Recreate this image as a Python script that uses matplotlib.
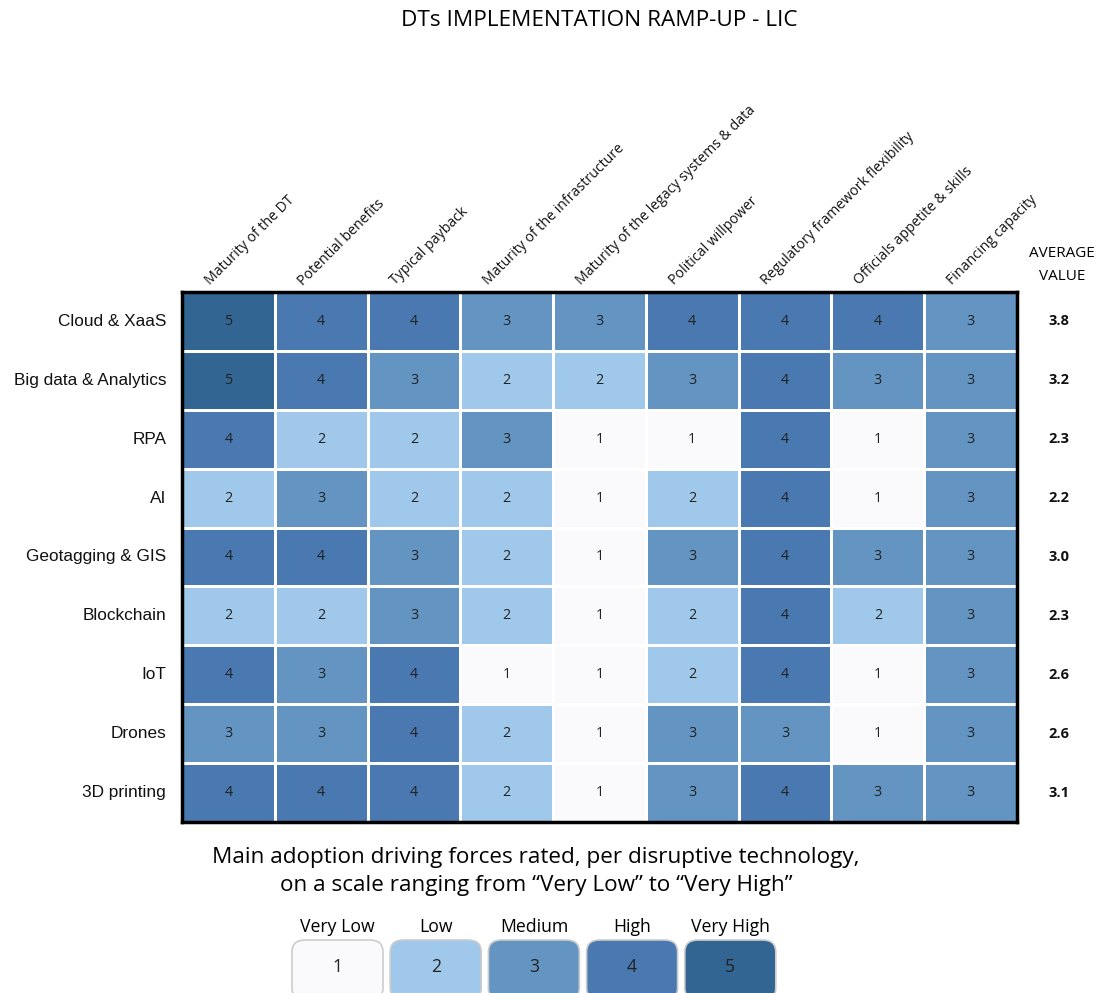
import matplotlib
matplotlib.use("Agg")
import matplotlib.pyplot as plt
import numpy as np
from matplotlib.colors import ListedColormap, BoundaryNorm
from matplotlib.patches import FancyBboxPatch

title = "DTs IMPLEMENTATION RAMP-UP - LIC"
technologies = ["Cloud & XaaS", "Big data & Analytics", "RPA", "AI", "Geotagging & GIS",
                "Blockchain", "IoT", "Drones", "3D printing"]
forces = ["Maturity of the DT", "Potential benefits", "Typical payback",
          "Maturity of the infrastructure", "Maturity of the legacy systems & data",
          "Political willpower", "Regulatory framework flexibility",
          "Officials appetite & skills", "Financing capacity"]
scores = [
    [5, 4, 4, 3, 3, 4, 4, 4, 3],
    [5, 4, 3, 2, 2, 3, 4, 3, 3],
    [4, 2, 2, 3, 1, 1, 4, 1, 3],
    [2, 3, 2, 2, 1, 2, 4, 1, 3],
    [4, 4, 3, 2, 1, 3, 4, 3, 3],
    [2, 2, 3, 2, 1, 2, 4, 2, 3],
    [4, 3, 4, 1, 1, 2, 4, 1, 3],
    [3, 3, 4, 2, 1, 3, 3, 1, 3],
    [4, 4, 4, 2, 1, 3, 4, 3, 3],
]
averages = [3.8, 3.2, 2.3, 2.2, 3.0, 2.3, 2.6, 2.6, 3.1]
legend_labels = ["Very Low", "Low", "Medium", "High", "Very High"]
legend_values = [1, 2, 3, 4, 5]
palette = ["#fafafd", "#9fc8ea", "#6494c2", "#4a78b0", "#326592"]

FONT = "Open Sans"
fig = plt.figure(figsize=(10.96, 9.93), dpi=100)
ax = fig.add_axes([182/1096, 1-822/993, (1017-182)/1096, (822-292)/993])

data = np.array(scores)
cmap = ListedColormap(palette)
norm = BoundaryNorm(np.arange(0.5, 6.5, 1), cmap.N)
nr, nc = data.shape
ax.pcolormesh(np.arange(nc+1), np.arange(nr+1), data, cmap=cmap, norm=norm,
              edgecolors="white", linewidth=2)
ax.set_xlim(0, nc)
ax.set_ylim(nr, 0)
for i in range(nr):
    for j in range(nc):
        ax.text(j+0.5, i+0.5, str(data[i, j]), ha="center", va="center",
                fontsize=10.3, color="#222222", family=FONT)
ax.set_xticks([])
ax.set_yticks([])
for s in ax.spines.values():
    s.set_linewidth(2.5)
    s.set_color("black")

# row labels
for i, t in enumerate(technologies):
    ax.text(-0.17, i+0.5, t, ha="right", va="center", fontsize=12.4,
            family="Liberation Sans", color="#111111")
# column labels
for j, f in enumerate(forces):
    ax.text(j+0.33, -0.06, f, rotation=45, rotation_mode="anchor",
            ha="left", va="bottom", fontsize=10.2, family=FONT, color="#111111")
# averages
for i, a in enumerate(averages):
    ax.text(nc+0.45, i+0.5, f"{a:.1f}", ha="center", va="center", fontsize=10.5,
            fontweight="bold", family=FONT, color="#111111", clip_on=False)
fig.text(1062/1096, 1-254/993, "AVERAGE", ha="center", va="center", fontsize=11, family=FONT)
fig.text(1062/1096, 1-277/993, "VALUE", ha="center", va="center", fontsize=11, family=FONT)

fig.text(599/1096, 1-20/993, title, ha="center", va="center", fontsize=16.2, family=FONT)
fig.text(536/1096, 1-858/993, "Main adoption driving forces rated, per disruptive technology,",
         ha="center", va="center", fontsize=16.2, family=FONT)
fig.text(536/1096, 1-885/993, "on a scale ranging from \u201cVery Low\u201d to \u201cVery High\u201d",
         ha="center", va="center", fontsize=16.2, family=FONT)

# legend boxes
lx0, lw, lgap = 292, 91, 7.2
for k, (lab, v, c) in enumerate(zip(legend_labels, legend_values, palette)):
    x = lx0 + k*(lw+lgap)
    box = FancyBboxPatch((x/1096, 1-1000/993), lw/1096, 60/993,
                         boxstyle="round,pad=0,rounding_size=0.012",
                         transform=fig.transFigure, facecolor=c,
                         edgecolor="#cccccc", linewidth=1.2)
    fig.patches.append(box)
    fig.text((x+lw/2)/1096, 1-927/993, lab, ha="center", va="center", fontsize=12.7, family=FONT)
    fig.text((x+lw/2)/1096, 1-967/993, str(v), ha="center", va="center", fontsize=12.7,
             family=FONT, color="#222222")

fig.savefig("out.png", dpi=100)
